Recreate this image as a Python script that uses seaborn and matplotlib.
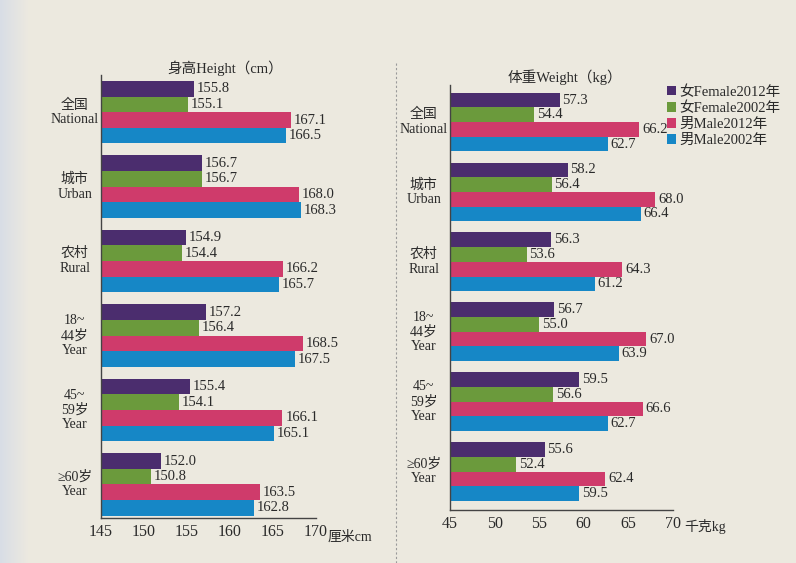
import numpy as np
import pandas as pd
import matplotlib
matplotlib.use("Agg")
import matplotlib.pyplot as plt
from matplotlib.lines import Line2D
import seaborn as sns

# data
categories = ["全国\nNational", "城市\nUrban", "农村\nRural",
              "18~\n44岁\nYear", "45~\n59岁\nYear", "≥60岁\nYear"]
series = ["女Female2012年", "女Female2002年", "男Male2012年", "男Male2002年"]

height_f2012 = [155.8, 156.7, 154.9, 157.2, 155.4, 152.0]
height_f2002 = [155.1, 156.7, 154.4, 156.4, 154.1, 150.8]
height_m2012 = [167.1, 168.0, 166.2, 168.5, 166.1, 163.5]
height_m2002 = [166.5, 168.3, 165.7, 167.5, 165.1, 162.8]

weight_f2012 = [57.3, 58.2, 56.3, 56.7, 59.5, 55.6]
weight_f2002 = [54.4, 56.4, 53.6, 55.0, 56.6, 52.4]
weight_m2012 = [66.2, 68.0, 64.3, 67.0, 66.6, 62.4]
weight_m2002 = [62.7, 66.4, 61.2, 63.9, 62.7, 59.5]

height_ticks = [145, 150, 155, 160, 165, 170]
weight_ticks = [45, 50, 55, 60, 65, 70]

colors = ["#4b2d6e", "#6b9a3c", "#cf3b6b", "#1687c6"]
text_color = "#2a2a2a"
fonts = ["Liberation Serif", "Noto Sans CJK SC", "DejaVu Sans"]


def long_table(values):
    rows = []
    for s, vals in zip(series, values):
        for c, v in zip(categories, vals):
            rows.append({"category": c, "series": s, "value": v})
    return pd.DataFrame(rows)


df_height = long_table([height_f2012, height_f2002, height_m2012, height_m2002])
df_weight = long_table([weight_f2012, weight_f2002, weight_m2012, weight_m2002])

sns.set_style("white")
plt.rcParams["font.family"] = fonts
plt.rcParams["text.color"] = text_color

fig = plt.figure(figsize=(7.96, 5.63), dpi=100)

# photo-like paper background
bg = fig.add_axes([0, 0, 1, 1], zorder=-10)
xs = np.linspace(0, 1, 400)
left_col = np.array([0.85, 0.87, 0.90])
paper = np.array([0.928, 0.914, 0.878])
mix = np.clip(xs / 0.035, 0, 1)[:, None]
grad = left_col * (1 - mix) + paper * mix
bg.imshow(grad[None, :, :], aspect="auto", extent=[0, 1, 0, 1])
bg.set_axis_off()

ax_h = fig.add_axes([101 / 796, 45 / 563, 215 / 796, 443 / 563])
ax_w = fig.add_axes([450 / 796, 53 / 563, 223 / 796, 425 / 563])


def draw_panel(ax, df, ticks, ylim, legend):
    sns.barplot(data=df, x="value", y="category", hue="series", orient="h",
                palette=colors, saturation=1, width=0.84, errorbar=None,
                linewidth=0, legend=legend, ax=ax)
    ax.set_facecolor("none")
    ax.set_xlim(ticks[0], ticks[-1])
    ax.set_ylim(*ylim)
    ax.set_xticks(ticks)
    ax.set_xticklabels([str(t) for t in ticks], fontsize=11.5, color=text_color)
    ax.set_yticks(np.arange(-0.5, len(categories) - 0.5, 1.0))
    ax.set_yticklabels([])
    ax.tick_params(axis="x", direction="in", length=5, width=0.9, color="#444444", pad=4)
    ax.tick_params(axis="y", direction="inout", length=5, width=0.9, color="#444444")
    ax.set_xlabel("")
    ax.set_ylabel("")
    for side in ["top", "right"]:
        ax.spines[side].set_visible(False)
    for side in ["left", "bottom"]:
        ax.spines[side].set_color("#444444")
        ax.spines[side].set_linewidth(1.0)
    for cont in ax.containers:
        ax.bar_label(cont, fmt="%.1f", padding=2, fontsize=10.5, color=text_color)
    for i, c in enumerate(categories):
        ax.annotate(c, xy=(0, i), xycoords=ax.get_yaxis_transform(),
                    xytext=(-19, 0), textcoords="offset points",
                    ha="center", va="center", multialignment="center",
                    fontsize=10, linespacing=1.15, color=text_color)


draw_panel(ax_h, df_height, height_ticks, (5.45, -0.5), False)
draw_panel(ax_w, df_weight, weight_ticks, (5.55, -0.53), True)

sns.move_legend(ax_w, "upper left", bbox_to_anchor=(0.975, 1.0), title=None,
                frameon=False, fontsize=10.5, handlelength=0.6, handleheight=0.6,
                handletextpad=0.2, labelspacing=0.2, borderaxespad=0, borderpad=0)

fig.text(225 / 796, 1 - 68 / 563, "身高Height（cm）", ha="center", va="center", fontsize=10.5)
fig.text(565 / 796, 1 - 77 / 563, "体重Weight（kg）", ha="center", va="center", fontsize=10.5)
fig.text(328 / 796, 1 - 537 / 563, "厘米cm", ha="left", va="center", fontsize=10)
fig.text(684 / 796, 1 - 527 / 563, "千克kg", ha="left", va="center", fontsize=10)

fig.add_artist(Line2D([396 / 796, 396 / 796], [1 - 63 / 563, 0], transform=fig.transFigure,
                      color="#9a9a9a", lw=0.8, ls=(0, (2, 2))))

fig.savefig("out.png", dpi=100)
